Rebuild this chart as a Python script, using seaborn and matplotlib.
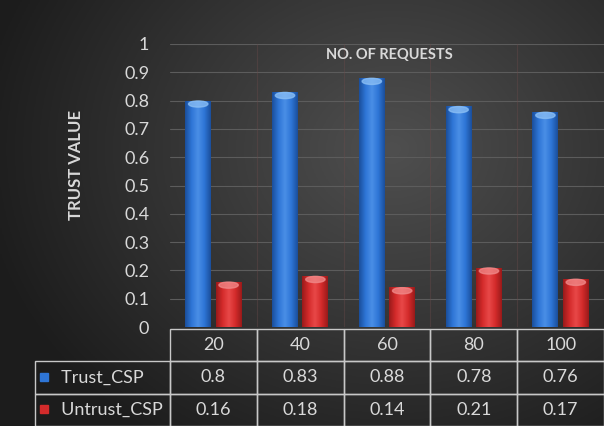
import numpy as np
import pandas as pd
import seaborn as sns
import matplotlib.pyplot as plt
from matplotlib.colors import LinearSegmentedColormap
from matplotlib.patches import Rectangle, Ellipse

requests = ["20", "40", "60", "80", "100"]
trust_csp = [0.8, 0.83, 0.88, 0.78, 0.76]
untrust_csp = [0.16, 0.18, 0.14, 0.21, 0.17]
series_names = ["Trust_CSP", "Untrust_CSP"]
yticks = [0, 0.1, 0.2, 0.3, 0.4, 0.5, 0.6, 0.7, 0.8, 0.9, 1]
ytick_labels = ["0", "0.1", "0.2", "0.3", "0.4", "0.5", "0.6", "0.7", "0.8", "0.9", "1"]

df = pd.DataFrame({
    "Requests": requests * 2,
    "Value": trust_csp + untrust_csp,
    "Series": [series_names[0]] * len(requests) + [series_names[1]] * len(requests),
})

sns.set_style("dark")
plt.rcParams['font.family'] = ['Lato', 'DejaVu Sans']
txt = "#d9d9d9"
blue = "#2e75d6"
red = "#d42b2b"

W, H = 604, 426
fig = plt.figure(figsize=(W / 100, H / 100), dpi=100)

# dark radial background
bg = fig.add_axes([0, 0, 1, 1], zorder=-5)
yy, xx = np.mgrid[0:1:200j, 0:1:300j]
d = np.sqrt(((xx - 0.65) * 1.2) ** 2 + ((yy - 0.35) * 1.0) ** 2)
shade = np.clip(0.31 - 0.24 * d, 0.11, 0.31)
bg.imshow(np.dstack([shade] * 3), extent=[0, 1, 0, 1], aspect="auto", origin="upper")
bg.axis("off")

ax = fig.add_axes([170 / W, 1 - 327 / H, 434 / W, 283 / H])
ax.patch.set_alpha(0)

sns.barplot(data=df, x="Requests", y="Value", hue="Series", palette=[blue, red],
            width=0.7, gap=0.15, ax=ax, legend=False, saturation=1,
            linewidth=0, edgecolor="none")

cmaps = {
    blue: LinearSegmentedColormap.from_list("b", ["#1b4f9c", "#2e75d6", "#4a8fe6", "#2e75d6", "#1b4f9c"]),
    red: LinearSegmentedColormap.from_list("r", ["#9a1a1a", "#d42b2b", "#e84848", "#d42b2b", "#9a1a1a"]),
}
caps = {blue: "#8cc0f5", red: "#f08a8a"}
grad = np.linspace(0, 1, 64).reshape(1, -1)
for i, p in enumerate(list(ax.patches)):
    col = blue if i < len(requests) else red
    x, w, h = p.get_x(), p.get_width(), p.get_height()
    im = ax.imshow(grad, cmap=cmaps[col], extent=[x, x + w, 0, h], aspect="auto", zorder=3)
    im.set_clip_path(p)
    ax.add_patch(Ellipse((x + w / 2, h - 0.012), w * 0.75, 0.022, color=caps[col], zorder=4, alpha=0.75))

ax.set_xlim(-0.5, len(requests) - 0.5)
ax.set_ylim(0, 1)
ax.set_yticks(yticks)
ax.set_yticklabels(ytick_labels, color=txt, fontsize=13)
ax.set_xticks([])
ax.set_xlabel("")
ax.set_ylabel("")
ax.tick_params(axis="y", length=0, pad=15)
for s in ax.spines.values():
    s.set_visible(False)
for yv in yticks[1:]:
    ax.axhline(yv, color="#5c5c5c", lw=0.8, zorder=1)
for xv in np.arange(0.5, len(requests) - 1, 1):
    ax.axvline(xv, color="#6a4a4a", lw=0.8, alpha=0.4, zorder=1)

ax.text(0.505, 0.985, "NO. OF REQUESTS", transform=ax.transAxes, ha="center", va="top",
        fontsize=10.5, fontweight="bold", color=txt)
fig.text(76 / W, 1 - 165 / H, "TRUST VALUE", rotation=90, ha="center", va="center",
         fontsize=12, fontweight="bold", color=txt)

# data table below the bars
cell_text = [[""] + requests,
             ["     " + series_names[0]] + [f"{v:g}" for v in trust_csp],
             ["     " + series_names[1]] + [f"{v:g}" for v in untrust_csp]]
total_w = 135 + 434
tbl = ax.table(cellText=cell_text, colWidths=[135 / total_w] + [86.8 / total_w] * 5,
               bbox=[-135 / 434, -99 / 283, total_w / 434, 97 / 283], cellLoc="center")
tbl.auto_set_font_size(False)
tbl.set_fontsize(13)
for (r, c), cell in tbl.get_celld().items():
    cell.set_facecolor("none")
    cell.set_edgecolor("#c8c8c8")
    cell.set_linewidth(1)
    cell.get_text().set_color(txt)
    if c == 0:
        cell.get_text().set_ha("left")
        cell._loc = "left"
        cell.PAD = 0.02
    if r == 0 and c == 0:
        cell.visible_edges = ""

for j, col in enumerate([blue, red]):
    yc = 1 - (377 + j * 32) / H
    fig.add_artist(Rectangle((40 / W, yc - 4 / H), 8 / W, 8 / H, transform=fig.transFigure,
                             color=col, zorder=10))

fig.savefig("out.png", dpi=100)
